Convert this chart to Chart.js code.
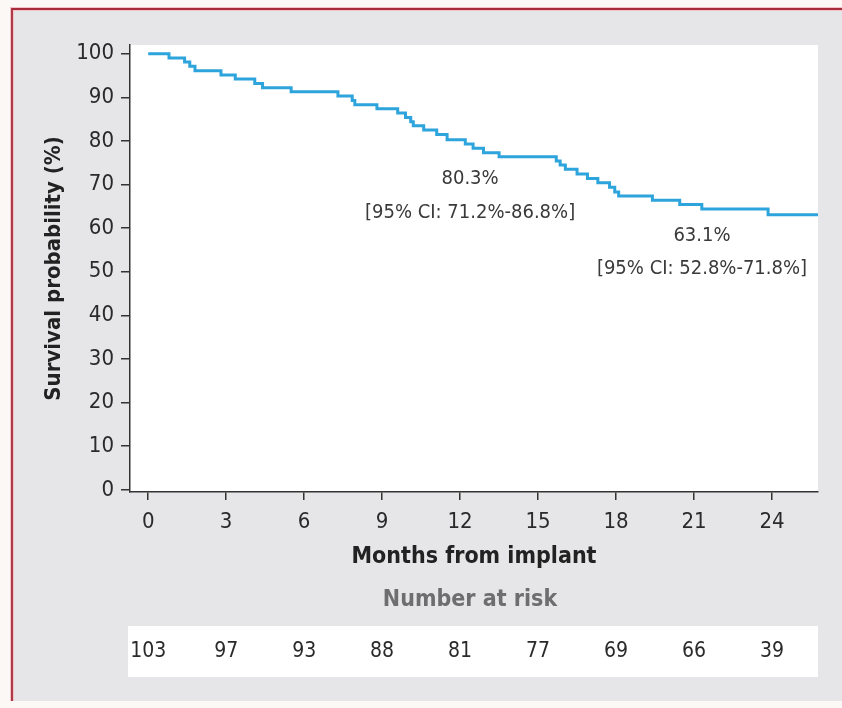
<!DOCTYPE html>
<html><head><meta charset="utf-8">
<style>html,body{margin:0;padding:0;background:#fbf8f6;}#wrap{width:842px;height:708px;position:relative}</style>
<script src="https://cdn.jsdelivr.net/npm/chart.js@4/dist/chart.umd.min.js"></script>
</head><body><div id="wrap"><canvas id="c" width="842" height="708"></canvas></div>
<script>
// Kaplan-Meier step points (months, survival %)
const months   = [0, 0.8, 1.4, 1.6, 1.8, 2.8, 3.35, 4.1, 4.4, 5.5, 7.3, 7.85, 7.95, 8.8, 9.6, 9.9, 10.1, 10.2, 10.6, 11.1, 11.5, 12.2, 12.5, 12.9, 13.5, 15.7, 15.85, 16.05, 16.5, 16.9, 17.3, 17.75, 17.95, 18.1, 19.4, 20.45, 21.3, 23.85, 25.77];
const survival = [100, 99.0, 98.1, 97.1, 96.1, 95.1, 94.2, 93.2, 92.2, 91.3, 90.3, 89.3, 88.3, 87.4, 86.4, 85.4, 84.4, 83.5, 82.5, 81.5, 80.3, 79.3, 78.3, 77.3, 76.4, 75.4, 74.5, 73.5, 72.4, 71.4, 70.4, 69.4, 68.3, 67.4, 66.4, 65.4, 64.4, 63.1, 63.1];
const tickMonths = [0, 3, 6, 9, 12, 15, 18, 21, 24];
const atRisk = [103, 97, 93, 88, 81, 77, 69, 66, 39];
const annotMonths = [12, 24];
const annotValues = [80.3, 63.1];
const annotPct = ['80.3%', '63.1%'];
const annotCI = ['[95% CI: 71.2%-86.8%]', '[95% CI: 52.8%-71.8%]'];

const FAM = "'Liberation Sans Narrow', 'Arial Narrow', 'DejaVu Sans Condensed', sans-serif";

const bgPlugin = {
  id: 'bg',
  beforeDraw(chart) {
    const ctx = chart.ctx, a = chart.chartArea;
    ctx.save();
    ctx.fillStyle = '#fbf8f6';
    ctx.fillRect(0, 0, 842, 708);
    ctx.fillStyle = '#e6e6e8';
    ctx.fillRect(13, 10, 829, 691);
    ctx.strokeStyle = '#f2c4ca';
    ctx.lineWidth = 4;
    ctx.beginPath(); ctx.moveTo(12, 701); ctx.lineTo(12, 9); ctx.lineTo(842, 9); ctx.stroke();
    ctx.strokeStyle = '#a82c3a';
    ctx.lineWidth = 1.8;
    ctx.beginPath(); ctx.moveTo(12, 701); ctx.lineTo(12, 9); ctx.lineTo(842, 9); ctx.stroke();
    ctx.fillStyle = '#ffffff';
    ctx.fillRect(a.left, a.top, a.right - a.left, a.bottom - a.top);
    ctx.fillRect(a.left - 2, 626, a.right - a.left + 2, 51);
    ctx.restore();
  },
  afterDraw(chart) {
    const ctx = chart.ctx, xs = chart.scales.x, ys = chart.scales.y, a = chart.chartArea;
    ctx.save();
    ctx.textAlign = 'center';
    ctx.textBaseline = 'middle';
    ctx.fillStyle = '#6e6e70';
    ctx.font = 'bold 23px ' + FAM;
    ctx.fillText('Number at risk', (a.left + a.right) / 2 - 4, 600);
    ctx.fillStyle = '#2a2a2a';
    ctx.font = '21px ' + FAM;
    tickMonths.forEach((m, i) => ctx.fillText(String(atRisk[i]), xs.getPixelForValue(m), 652));
    ctx.fillStyle = '#3a3a3a';
    ctx.font = '20px ' + FAM;
    const offs = [[10, 39, 73], [-70, 21, 54]];
    annotMonths.forEach((m, i) => {
      const px = xs.getPixelForValue(m), py = ys.getPixelForValue(annotValues[i]);
      ctx.fillText(annotPct[i], px + offs[i][0], py + offs[i][1]);
      ctx.fillText(annotCI[i], px + offs[i][0], py + offs[i][2]);
    });
    ctx.restore();
  }
};

new Chart(document.getElementById('c'), {
  type: 'line',
  data: {
    datasets: [{
      data: months.map((m, i) => ({x: m, y: survival[i]})),
      stepped: true,
      borderColor: '#2ea4dc',
      borderWidth: 3,
      pointRadius: 0,
      fill: false
    }]
  },
  options: {
    responsive: false,
    devicePixelRatio: 1,
    animation: false,
    layout: {padding: {left: 0, top: 45, right: 24, bottom: 126}},
    plugins: {legend: {display: false}, tooltip: {enabled: false}},
    scales: {
      x: {
        type: 'linear', min: -0.7, max: 25.77,
        afterFit(s) { s.height = 90; },
        ticks: {stepSize: 3, includeBounds: false, padding: 9, color: '#2a2a2a', font: {family: FAM, size: 22}, maxRotation: 0},
        grid: {display: true, drawOnChartArea: false, tickLength: 8, color: '#333', lineWidth: 1.5},
        border: {display: true, color: '#333', width: 1.5},
        title: {display: true, text: 'Months from implant', color: '#222', font: {family: FAM, size: 23, weight: 'bold'}, padding: {top: 0, bottom: 11}}
      },
      y: {
        type: 'linear', min: -0.5, max: 102,
        afterFit(s) { s.width = 130; },
        ticks: {stepSize: 10, includeBounds: false, padding: 7, color: '#2a2a2a', font: {family: FAM, size: 22}},
        grid: {display: true, drawOnChartArea: false, tickLength: 9, color: '#333', lineWidth: 1.5},
        border: {display: true, color: '#333', width: 1.5},
        title: {display: true, text: 'Survival probability (%)', color: '#222', font: {family: FAM, size: 22, weight: 'bold'}, padding: {top: 41, bottom: 0}}
      }
    }
  },
  plugins: [bgPlugin]
});
</script></body></html>
